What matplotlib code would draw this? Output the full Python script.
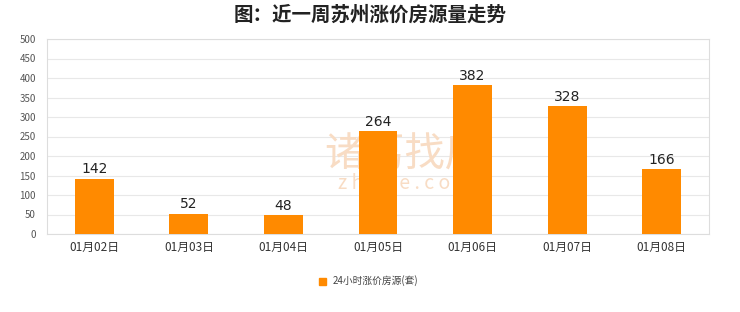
import matplotlib
matplotlib.use("Agg")
import matplotlib.pyplot as plt
from matplotlib.patches import Rectangle

plt.rcParams['font.family'] = ['Noto Sans CJK SC', 'DejaVu Sans']

dates = ['01月02日', '01月03日', '01月04日', '01月05日', '01月06日', '01月07日', '01月08日']
counts = [142, 52, 48, 264, 382, 328, 166]
series_name = '24小时涨价房源(套)'
title = '图：近一周苏州涨价房源量走势'

bar_color = '#ff8a00'

fig = plt.figure(figsize=(7.4, 3.12), dpi=100)
ax = fig.add_axes([47 / 740, 1 - 234 / 312, 662 / 740, 195 / 312])

x = list(range(len(dates)))
ax.bar(x, counts, width=0.41, color=bar_color, zorder=3, label=series_name)
for xi, v in zip(x, counts):
    ax.text(xi, v + 6, str(v), ha='center', va='bottom', fontsize=10,
            family='DejaVu Sans', color='#222222', zorder=4)

ax.set_xlim(-0.5, len(dates) - 0.5)
ax.set_ylim(0, 500)
ax.set_yticks(range(0, 501, 50))
ax.set_xticks(x)
ax.set_xticklabels(dates, fontsize=8.5, color='#333333')
ax.tick_params(axis='y', labelsize=7, colors='#555555', length=0, pad=8)
ax.tick_params(axis='x', length=0, pad=5)
ax.grid(axis='y', color='#e8e8e8', linewidth=0.8, zorder=0)
for s in ax.spines.values():
    s.set_color('#dddddd')
    s.set_linewidth(0.8)

# watermark, kept under the bars
ax.text(405 / 740, 1 - 154 / 312, '诸葛找房', transform=fig.transFigure,
        ha='center', va='center', fontsize=29, color='#f8dcc4', zorder=2)
ax.text(405 / 740, 1 - 184 / 312, 'z h u g e . c o m', transform=fig.transFigure,
        ha='center', va='center', fontsize=14, color='#f8dcc4', zorder=2)

fig.text(0.5, 1 - 15 / 312, title, ha='center', va='center', fontsize=14,
         fontweight='bold', color='#222222')

# legend
fig.patches.append(Rectangle((319 / 740, 1 - 285 / 312), 7 / 740, 7 / 312,
                             transform=fig.transFigure, color=bar_color))
fig.text(333 / 740, 1 - 281 / 312, series_name, ha='left', va='center',
         fontsize=7, color='#444444')

fig.savefig('out.png', dpi=100, facecolor='white')
